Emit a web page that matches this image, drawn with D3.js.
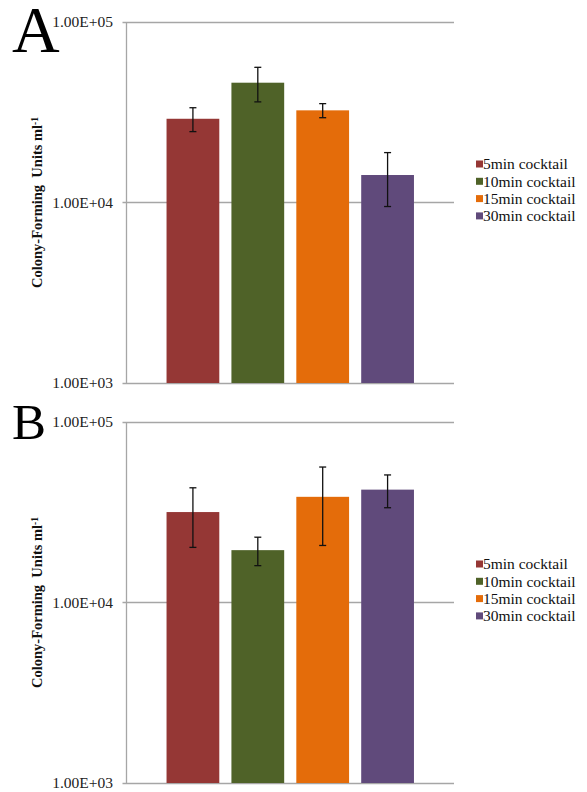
<!DOCTYPE html>
<html>
<head>
<meta charset="utf-8">
<script src="https://cdn.jsdelivr.net/npm/d3@7"></script>
<style>
body { margin: 0; background: #fff; }
svg text { font-family: "Liberation Serif", "DejaVu Serif", serif; }
</style>
</head>
<body>
<div class="container"></div>
<script>
var series = ["5min cocktail", "10min cocktail", "15min cocktail", "30min cocktail"];
var colors = ["#953735", "#4f6228", "#e46c0a", "#604a7b"];
var tickValues = [1e3, 1e4, 1e5];
var tickLabels = ["1.00E+03", "1.00E+04", "1.00E+05"];

// panel A
var valuesA = [29100, 46100, 32400, 14200];
var errorsA = [4400, 10000, 2900, 4700];
// panel B
var valuesB = [31700, 19500, 38500, 42200];
var errorsB = [11500, 3500, 17800, 8700];

var panels = [
	{letter: "A", size: 66, values: valuesA, errors: errorsA, top: 22},
	{letter: "B", size: 51, values: valuesB, errors: errorsB, top: 422}
];

var W = 587, H = 792;
var left = 126.5, right = 454;
var decade = 180.5;
var serif = '"Liberation Serif", "DejaVu Serif", serif';

var svg = d3.select('.container').append('svg')
	.attr('width', W)
	.attr('height', H)
	.style('display', 'block');

var x = d3.scaleBand()
	.domain(series)
	.range([left, right])
	.paddingInner(0.187)
	.paddingOuter(0.617);

panels.forEach(function(p){
	var g = svg.append('g').attr('font-family', serif);
	var y = d3.scaleLog()
		.domain([1e3, 1e5])
		.range([p.top + 2 * decade, p.top]);

	// gridlines
	g.selectAll('line.grid')
		.data(tickValues)
		.enter().append('line')
		.attr('x1', left - 4)
		.attr('x2', right)
		.attr('y1', function(d){ return Math.round(y(d)) + 0.5; })
		.attr('y2', function(d){ return Math.round(y(d)) + 0.5; })
		.style('stroke', '#a6a6a6')
		.style('stroke-width', 1.3);

	// axis line
	g.append('line')
		.attr('x1', left).attr('x2', left)
		.attr('y1', y(1e5)).attr('y2', y(1e3))
		.style('stroke', '#a6a6a6')
		.style('stroke-width', 1.3);

	// tick labels
	g.selectAll('text.tick')
		.data(tickValues)
		.enter().append('text')
		.attr('x', 113)
		.attr('y', function(d){ return y(d); })
		.attr('dy', '0.35em')
		.attr('text-anchor', 'end')
		.style('font-size', '15.5px')
		.style('fill', '#222')
		.text(function(d, i){ return tickLabels[i]; });

	// bars
	g.selectAll('rect.bar')
		.data(p.values)
		.enter().append('rect')
		.attr('x', function(d, i){ return x(series[i]); })
		.attr('width', x.bandwidth())
		.attr('y', function(d){ return y(d); })
		.attr('height', function(d){ return y(1e3) - y(d); })
		.style('fill', function(d, i){ return colors[i]; });

	// error bars
	var eb = g.selectAll('g.err')
		.data(p.values)
		.enter().append('g')
		.style('stroke', '#111')
		.style('stroke-width', 1.3);
	eb.append('line')
		.attr('x1', function(d, i){ return x(series[i]) + x.bandwidth() / 2; })
		.attr('x2', function(d, i){ return x(series[i]) + x.bandwidth() / 2; })
		.attr('y1', function(d, i){ return y(d + p.errors[i]); })
		.attr('y2', function(d, i){ return y(d - p.errors[i]); });
	[1, -1].forEach(function(s){
		eb.append('line')
			.attr('x1', function(d, i){ return x(series[i]) + x.bandwidth() / 2 - 3.5; })
			.attr('x2', function(d, i){ return x(series[i]) + x.bandwidth() / 2 + 3.5; })
			.attr('y1', function(d, i){ return y(d + s * p.errors[i]); })
			.attr('y2', function(d, i){ return y(d + s * p.errors[i]); });
	});

	// y axis title
	var cy = y(1e4);
	var t = g.append('text')
		.attr('transform', 'translate(42,' + cy + ') rotate(-90)')
		.attr('text-anchor', 'middle')
		.style('font-size', '14.5px')
		.style('font-weight', 'bold')
		.style('fill', '#111');
	t.append('tspan').text('Colony-Forming\u00a0\u00a0Units ml');
	t.append('tspan').attr('dy', '-0.45em').style('font-size', '9.5px').text('-1');

	// panel letter
	g.append('text')
		.attr('x', 12)
		.attr('y', p.top + (p.letter === "A" ? 30 : 17))
		.style('font-size', p.size + 'px')
		.style('fill', '#000')
		.text(p.letter);

	// legend
	var lg = g.selectAll('g.leg')
		.data(series)
		.enter().append('g')
		.attr('transform', function(d, i){ return 'translate(476,' + (p.top + 142 + i * 17.3) + ')'; });
	lg.append('rect')
		.attr('x', 0).attr('y', -3.5)
		.attr('width', 7).attr('height', 7)
		.style('fill', function(d, i){ return colors[i]; });
	lg.append('text')
		.attr('x', 7)
		.attr('dy', '0.35em')
		.style('font-size', '15.5px')
		.style('fill', '#111')
		.text(function(d){ return d; });
});
</script>
</body>
</html>
